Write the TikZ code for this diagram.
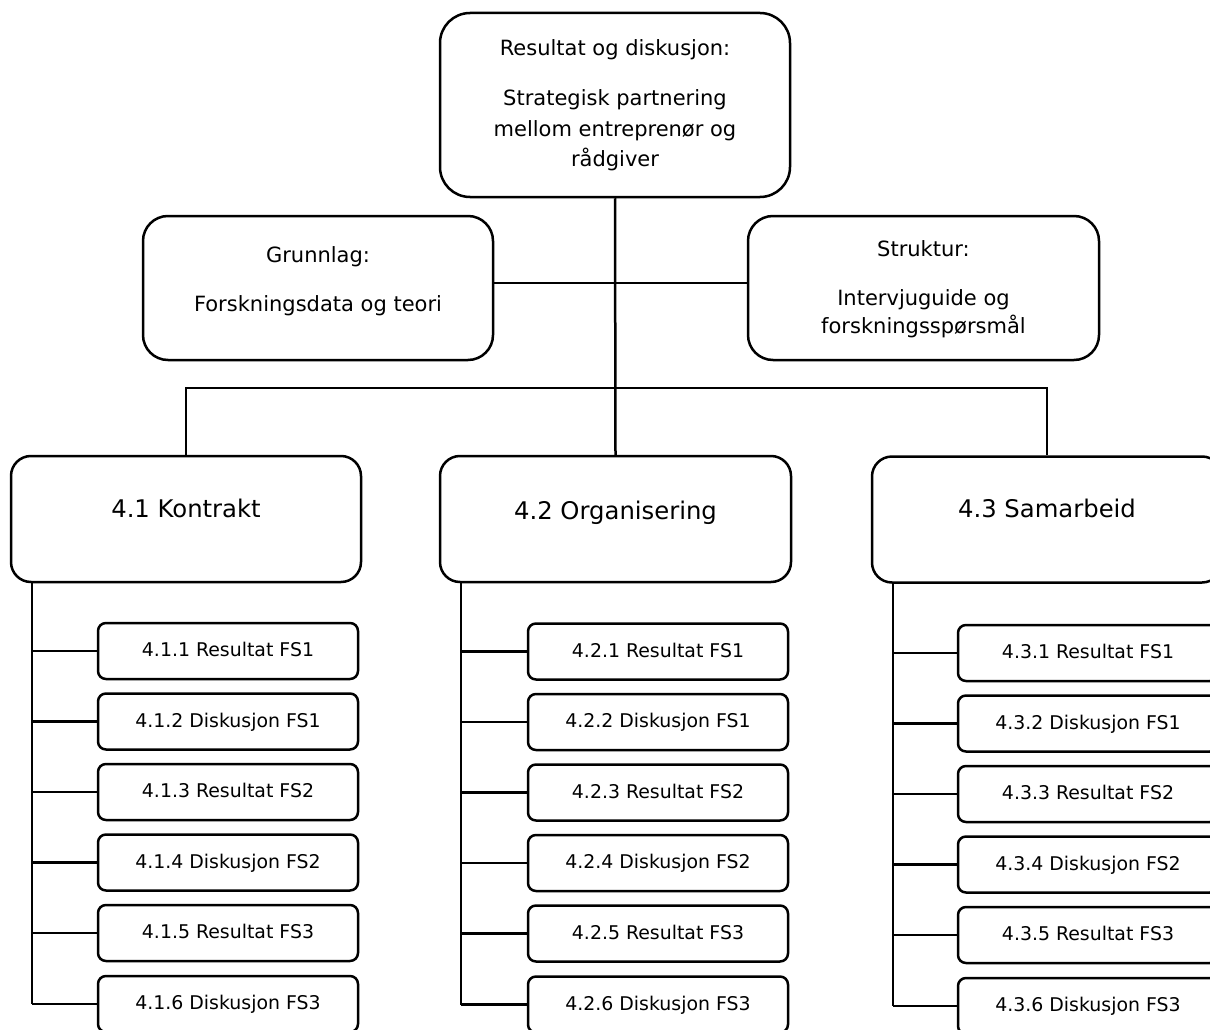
\documentclass[tikz,border=0pt]{standalone}
\usepackage{fontspec}
\setmainfont{DejaVu Sans}
\usetikzlibrary{calc}
\begin{document}
\begin{tikzpicture}[x=1pt,y=-1pt,
  conn/.style={line width=2.5pt},
  rbox/.style={draw, line width=2.5pt, fill=white, inner sep=0pt, rounded corners=#1},
  rbox/.default=20pt,
  midtxt/.style={anchor=base, inner sep=0pt, font=\fontsize{21}{25}\selectfont},
  bigtxt/.style={anchor=base, inner sep=0pt, font=\fontsize{24.3}{29}\selectfont},
  childbox/.style={rbox=8pt, minimum width=260pt, minimum height=56pt,
    font=\fontsize{18.9}{22}\selectfont, text height=15pt, text depth=4pt}
]
\useasboundingbox (0,0) rectangle (1210,1030);
\clip (0,0) rectangle (1210,1030);

% top level
\node[rbox=30pt, minimum width=350pt, minimum height=184pt] (top) at (615,105) {};
\node[midtxt] (topA) at (615,56) {Resultat og diskusjon:};
\node[midtxt] (topB) at (615,106) {Strategisk partnering};
\node[midtxt] (topC) at (615,136) {mellom entreprenør og};
\node[midtxt] (topD) at (615,166) {rådgiver};

% side boxes
\node[rbox=25pt, minimum width=350pt, minimum height=144pt] (grn) at (318,288) {};
\node[midtxt] (grnA) at (318,262) {Grunnlag:};
\node[midtxt] (grnB) at (318,311) {Forskningsdata og teori};

\node[rbox=25pt, minimum width=351pt, minimum height=144pt] (str) at (923.5,288) {};
\node[midtxt] (strA) at (923.5,256) {Struktur:};
\node[midtxt] (strB) at (923.5,305) {Intervjuguide og};
\node[midtxt] (strC) at (923.5,333) {forskningsspørsmål};

% chapter boxes
\node[rbox, minimum width=350pt, minimum height=126pt] (k1) at (186,519) {};
\node[bigtxt] (k1t) at (186,517) {4.1 Kontrakt};
\node[rbox, minimum width=351pt, minimum height=126pt] (k2) at (615.5,519) {};
\node[bigtxt] (k2t) at (615.5,519) {4.2 Organisering};
\node[rbox, minimum width=350pt, minimum height=126pt] (k3) at (1047,519.5) {};
\node[bigtxt] (k3t) at (1047,517) {4.3 Samarbeid};

% connectors between the upper levels
\coordinate (mid) at (615,283);
\coordinate (bus) at (615,388);
\draw[conn] (top.south) -- (k2.north);
\draw[conn] (grn.east |- mid) -- (str.west |- mid);
\draw[conn] (k1.north) |- (bus) -| (k3.north);

% sub-sections for each chapter
\foreach \col/\cx/\dy in {1/228/0, 2/658/0.5, 3/1088/2}{
  \coordinate (s\col) at ($(k\col.south west)+(22,0)$);
  \foreach \i/\y/\lab in {1/651/Resultat FS1, 2/721.5/Diskusjon FS1,
                          3/792/Resultat FS2, 4/862.5/Diskusjon FS2,
                          5/933/Resultat FS3, 6/1004/Diskusjon FS3}{
    \node[childbox] (c\col\i) at (\cx,\y+\dy) {4.\col.\i\ \lab};
    \draw[conn] (s\col |- c\col\i.west) -- (c\col\i.west);
  }
  \draw[conn] (s\col) -- (s\col |- c\col6.west);
}
\end{tikzpicture}
\end{document}
